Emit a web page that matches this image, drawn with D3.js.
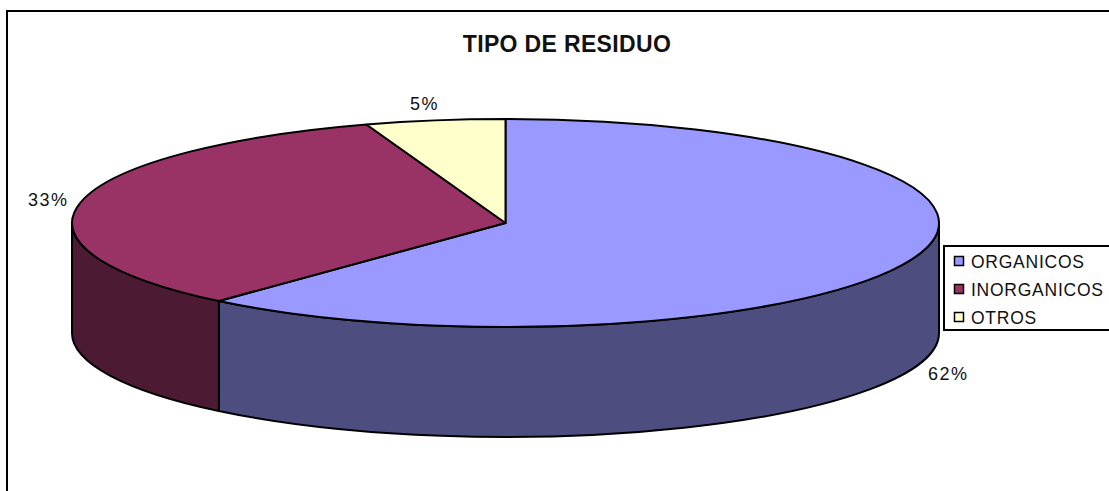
<!DOCTYPE html>
<html><head><meta charset="utf-8">
<script src="https://cdn.jsdelivr.net/npm/d3@7"></script>
<style>html,body{margin:0;padding:0;background:#fff;overflow:hidden}svg{display:block}text{font-family:"Liberation Sans",Arial,sans-serif;fill:#111}</style>
</head><body><svg id="c" width="1109" height="491"></svg>
<script>
const categories = ["ORGANICOS", "INORGANICOS", "OTROS"];
const values = [61.5, 33.3, 5.2];
const labels = ["62%", "33%", "5%"];
const topColors = ["#9999FF", "#993366", "#FFFFCC"];
const sideColors = ["#4D4D80", "#4D1A33", "#808066"];
const chartTitle = "TIPO DE RESIDUO";

const svg = d3.select("#c");
const cx = 505.5, cy = 223, depth = 110;
const X = d3.scaleLinear().domain([-1, 1]).range([72, 939]);
const Y = d3.scaleLinear().domain([-1, 1]).range([119, 327]);
const rx = (X(1) - X(-1)) / 2, ry = (Y(1) - Y(-1)) / 2;
const px = a => X(Math.sin(a)), py = a => Y(-Math.cos(a));
const arcs = d3.pie().sort(null).value(d => d)(values);

// frame (right and bottom edges run off the picture)
svg.append("rect").attr("x", 7).attr("y", 11).attr("width", 1200).attr("height", 600)
  .attr("fill", "#fff").attr("stroke", "#000").attr("stroke-width", 2);

svg.append("text").attr("x", 567).attr("y", 52).attr("text-anchor", "middle")
  .attr("font-size", 23).attr("font-weight", "bold").attr("letter-spacing", 0.35).text(chartTitle);

// sides: the visible front half of the rim
const frontA = Math.PI / 2, frontB = 3 * Math.PI / 2;
const g = svg.append("g").attr("stroke", "#000").attr("stroke-width", 2).attr("stroke-linejoin", "round");
arcs.forEach((d, i) => {
  const a0 = Math.max(d.startAngle, frontA), a1 = Math.min(d.endAngle, frontB);
  if (a1 <= a0) return;
  const large = a1 - a0 > Math.PI ? 1 : 0;
  const path = `M${px(a0)},${py(a0)}A${rx},${ry} 0 ${large} 1 ${px(a1)},${py(a1)}` +
    `L${px(a1)},${py(a1) + depth}A${rx},${ry} 0 ${large} 0 ${px(a0)},${py(a0) + depth}Z`;
  g.append("path").attr("d", path).attr("fill", sideColors[i]);
});

// top faces
arcs.forEach((d, i) => {
  const a0 = d.startAngle, a1 = d.endAngle;
  const large = a1 - a0 > Math.PI ? 1 : 0;
  g.append("path")
    .attr("d", `M${cx},${cy}L${px(a0)},${py(a0)}A${rx},${ry} 0 ${large} 1 ${px(a1)},${py(a1)}Z`)
    .attr("fill", topColors[i]);
});

// percentage labels
const labelGap = [17, 12, -4], labelDrop = [10, 3, -10];
arcs.forEach((d, i) => {
  const m = (d.startAngle + d.endAngle) / 2, right = Math.sin(m) > 0, front = Math.cos(m) < 0;
  svg.append("text")
    .attr("x", px(m) + (right ? labelGap[i] : -labelGap[i]))
    .attr("y", py(m) + (front ? depth : 0) + labelDrop[i])
    .attr("text-anchor", right ? "start" : "end")
    .attr("font-size", 18).attr("letter-spacing", 1.5).text(labels[i]);
});

// legend
svg.append("rect").attr("x", 944).attr("y", 246).attr("width", 200).attr("height", 84)
  .attr("fill", "#fff").attr("stroke", "#000").attr("stroke-width", 2);
const LY = d3.scalePoint().domain(categories).range([261, 317]);
categories.forEach((c, i) => {
  svg.append("rect").attr("x", 954.5).attr("y", LY(c) - 4.5).attr("width", 9).attr("height", 9)
    .attr("fill", topColors[i]).attr("stroke", "#000").attr("stroke-width", 1.5);
  svg.append("text").attr("x", 971).attr("y", LY(c) + 6.5).attr("font-size", 17.5).attr("letter-spacing", 0.75).text(c);
});
</script></body></html>
